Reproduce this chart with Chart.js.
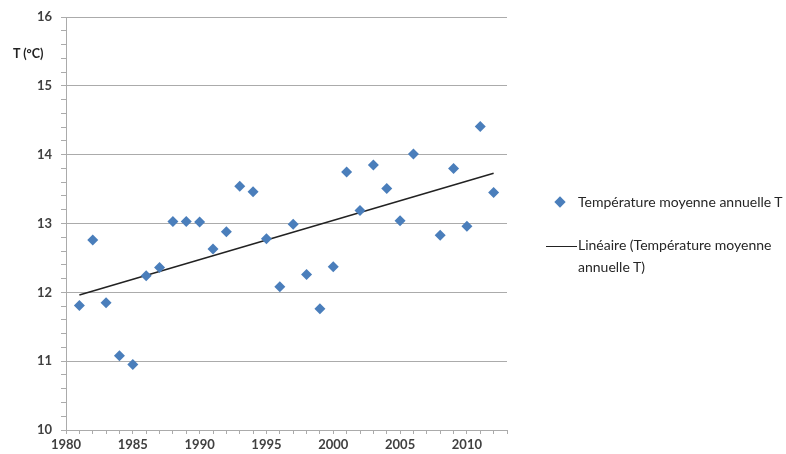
<!DOCTYPE html>
<html>
<head>
<meta charset="utf-8">
<script src="https://cdn.jsdelivr.net/npm/chart.js@4"></script>
<style>
  body { margin: 0; background: #fff; }
  #wrap { position: relative; width: 786px; height: 454px; font-family: Lato, "Open Sans", sans-serif; }
  #yTitle { position: absolute; left: 13px; top: 46px; font-size: 12.5px; font-weight: bold; color: #222; }
  .leg { position: absolute; font-size: 14px; color: #262626; line-height: 22px; }
  .diamond { position: absolute; width: 8px; height: 8px; background: #4a7ebb; transform: rotate(45deg); }
  .trendKey { position: absolute; height: 0; border-top: 1.5px solid #222; }
</style>
</head>
<body>
<div id="wrap">
  <canvas id="chart" width="786" height="454"></canvas>
  <div id="yTitle">T (°C)</div>
  <div class="diamond" style="left:556px; top:198px;"></div>
  <div class="leg" style="left:578px; top:191px;">Température moyenne annuelle T</div>
  <div class="trendKey" style="left:546px; top:246px; width:31px;"></div>
  <div class="leg" style="left:578px; top:234px;">Linéaire (Température moyenne<br>annuelle T)</div>
</div>
<script>
// values
const years = [1981, 1982, 1983, 1984, 1985, 1986, 1987, 1988, 1989, 1990,
  1991, 1992, 1993, 1994, 1995, 1996, 1997, 1998, 1999, 2000,
  2001, 2002, 2003, 2004, 2005, 2006, 2008, 2009, 2010, 2011, 2012];
const temps = [11.81, 12.76, 11.85, 11.08, 10.95, 12.24, 12.36, 13.03, 13.03, 13.02,
  12.63, 12.88, 13.54, 13.46, 12.78, 12.08, 12.99, 12.26, 11.76, 12.37,
  13.75, 13.19, 13.85, 13.51, 13.04, 14.01, 12.83, 13.80, 12.96, 14.41, 13.45];
const trendYears = [1981, 2012];
const trendValues = [11.96, 13.73];

const gridGrey = '#ababab';
const tickFont = { family: 'Lato, "Open Sans", sans-serif', size: 13, weight: 'bold' };

const points = years.map((y, i) => ({ x: y, y: temps[i] }));
const trend = trendYears.map((y, i) => ({ x: y, y: trendValues[i] }));

new Chart(document.getElementById('chart'), {
  type: 'scatter',
  data: {
    datasets: [
      {
        label: 'Température moyenne annuelle T',
        data: points,
        pointStyle: 'rectRot',
        pointRadius: 5.5,
        pointBackgroundColor: '#4a7ebb',
        pointBorderColor: '#4a7ebb',
        pointBorderWidth: 0
      },
      {
        type: 'line',
        label: 'Linéaire (Température moyenne annuelle T)',
        data: trend,
        borderColor: '#222',
        borderWidth: 1.5,
        pointRadius: 0,
        fill: false
      }
    ]
  },
  options: {
    responsive: false,
    animation: false,
    layout: { padding: { top: 17, right: 279, left: 0, bottom: 0 } },
    plugins: { legend: { display: false }, tooltip: { enabled: false } },
    scales: {
      x: {
        type: 'linear',
        min: 1980,
        max: 2013,
        afterFit: s => { s.height = 24; },
        border: { color: gridGrey, width: 1 },
        grid: { color: 'rgba(0,0,0,0)', tickColor: gridGrey, tickLength: 4 },
        ticks: {
          stepSize: 1,
          autoSkip: false,
          maxRotation: 0,
          padding: 3,
          color: '#404040',
          font: tickFont,
          callback: v => (v % 5 === 0 ? String(v) : '')
        }
      },
      y: {
        min: 10,
        max: 16,
        afterFit: s => { s.width = 66; },
        border: { color: gridGrey, width: 1 },
        grid: {
          color: c => (Math.abs(c.tick.value - Math.round(c.tick.value)) < 1e-6 ? gridGrey : 'rgba(0,0,0,0)'),
          tickColor: gridGrey,
          tickLength: 5
        },
        ticks: {
          stepSize: 0.2,
          autoSkip: false,
          padding: 9,
          color: '#404040',
          font: tickFont,
          callback: v => (Math.abs(v - Math.round(v)) < 1e-6 ? String(Math.round(v)) : '')
        }
      }
    }
  }
});
</script>
</body>
</html>
